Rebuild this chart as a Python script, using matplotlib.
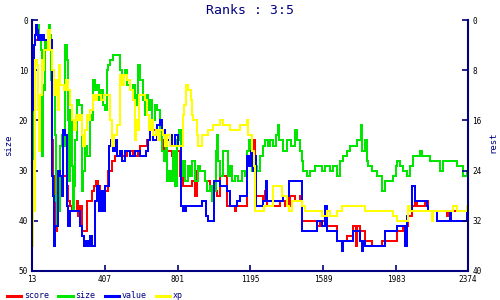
import matplotlib
matplotlib.use("Agg")
import matplotlib.pyplot as plt
from matplotlib.lines import Line2D

title = "Ranks : 3:5"
x_ticks = [13, 407, 801, 1195, 1589, 1983, 2374]
left_ticks = [0, 10, 20, 30, 40, 50]
right_ticks = [0, 8, 16, 24, 32, 40]

score_x = [13, 16, 18, 24, 29, 121, 127, 138, 143, 148, 154, 203, 208, 219, 230, 246, 257, 262, 273, 284,
           311, 327, 338, 349, 360, 371, 381, 425, 446, 462, 490, 527, 560, 587, 598, 636, 652, 717, 728,
           771, 798, 814, 831, 858, 879, 896, 906, 950, 977, 999, 1015, 1031, 1069, 1112, 1118, 1177, 1188,
           1199, 1210, 1215, 1221, 1248, 1264, 1275, 1286, 1302, 1313, 1356, 1383, 1394, 1405, 1410, 1437,
           1464, 1475, 1518, 1556, 1572, 1600, 1610, 1654, 1665, 1719, 1751, 1767, 1773, 1789, 1816, 1854,
           1881, 1908, 1935, 1989, 2022, 2049, 2071, 2087, 2098, 2141, 2158, 2260, 2266, 2369, 2374]
score_y = [18, 8, 6, 5, 4, 24, 31, 37, 42, 34, 31, 33, 36, 37, 38, 38, 36, 39, 37, 42,
           36, 36, 34, 33, 32, 33, 34, 30, 28, 27, 27, 26, 27, 26, 25, 24, 22, 24, 26,
           27, 26, 31, 33, 33, 32, 35, 30, 32, 34, 34, 35, 31, 37, 38, 37, 27, 29,
           26, 28, 24, 35, 35, 36, 34, 37, 37, 37, 36, 37, 35, 37, 35, 36,
           35, 40, 40, 41, 40, 38, 41, 41, 44, 43, 41, 45, 41, 42, 44, 45,
           45, 44, 44, 42, 41, 39, 37, 36, 37, 36, 38, 39, 38, 37, 37]

size_x = [13, 18, 29, 45, 51, 62, 67, 70, 78, 83, 94, 105, 110, 116, 127, 138, 143, 148, 154, 159, 165,
          175, 186, 192, 203, 208, 213, 219, 230, 235, 241, 246, 257, 268, 284, 289, 300, 311, 327, 333,
          343, 354, 365, 376, 387, 397, 408, 419, 425, 435, 452, 479, 490, 500, 517, 527, 544, 560, 571,
          582, 587, 598, 614, 625, 630, 641, 652, 663, 679, 690, 706, 717, 728, 739, 744, 755, 766, 777,
          787, 798, 809, 820, 831, 842, 858, 869, 879, 896, 912, 923, 950, 961, 977, 988, 999, 1010, 1015,
          1020, 1031, 1047, 1074, 1085, 1096, 1112, 1128, 1150, 1166, 1177, 1188, 1199, 1204, 1221, 1231,
          1248, 1264, 1275, 1291, 1302, 1318, 1334, 1345, 1350, 1372, 1394, 1416, 1437, 1448, 1464, 1475,
          1480, 1502, 1518, 1545, 1583, 1600, 1627, 1643, 1665, 1681, 1697, 1719, 1735, 1773, 1795, 1800,
          1816, 1827, 1833, 1854, 1881, 1908, 1924, 1951, 1968, 1984, 1989, 2006, 2022, 2044, 2060, 2076,
          2098, 2114, 2125, 2168, 2185, 2222, 2239, 2314, 2347, 2369, 2374]
size_y = [30, 5, 3, 1, 4, 6, 27, 13, 14, 4, 6, 1, 3, 12, 14, 23, 36, 41, 33, 38, 25,
          23, 25, 5, 8, 20, 32, 18, 29, 38, 33, 24, 16, 17, 34, 30, 25, 27, 19, 20,
          12, 14, 13, 16, 14, 17, 18, 10, 9, 8, 7, 7, 10, 11, 10, 13, 14, 13, 17,
          15, 9, 12, 16, 19, 15, 18, 16, 20, 17, 18, 22, 26, 28, 24, 32, 30, 32, 26,
          33, 24, 22, 31, 28, 32, 29, 31, 28, 32, 29, 30, 32, 34, 33, 36, 34, 26, 23,
          28, 31, 26, 31, 29, 32, 31, 32, 30, 31, 26, 24, 27, 30, 29, 30,
          27, 25, 24, 25, 24, 25, 23, 21, 24, 26, 24, 25, 22, 24, 26, 28,
          30, 31, 30, 29, 30, 29, 30, 29, 31, 28, 27, 26, 25, 24, 21, 26,
          24, 28, 29, 30, 31, 34, 32, 32, 31, 29, 28, 29, 30, 31, 29, 27,
          27, 26, 27, 28, 28, 30, 28, 29, 31, 30, 30]

value_x = [13, 18, 24, 29, 35, 40, 45, 51, 56, 62, 67, 73, 78, 100, 110, 121, 127, 132, 138, 148, 154,
           165, 175, 181, 192, 203, 208, 219, 262, 273, 284, 295, 306, 316, 327, 338, 354, 365, 376, 387,
           397, 408, 419, 430, 441, 452, 462, 473, 490, 500, 517, 544, 571, 598, 630, 641, 652, 668, 690,
           706, 717, 733, 760, 771, 787, 804, 820, 831, 836, 842, 847, 933, 955, 966, 999, 1031, 1069,
           1085, 1123, 1139, 1177, 1188, 1199, 1210, 1215, 1226, 1231, 1264, 1280, 1286, 1318, 1372, 1405,
           1475, 1556, 1583, 1600, 1610, 1665, 1692, 1697, 1751, 1789, 1800, 1805, 1816, 1924, 1989, 2033,
           2044, 2049, 2071, 2087, 2152, 2158, 2206, 2276, 2282, 2369, 2374]
value_y = [18, 9, 5, 3, 1, 2, 4, 3, 4, 3, 4, 3, 4, 3, 4, 31, 35, 45, 41, 41, 30,
           31, 35, 22, 23, 37, 41, 38, 38, 41, 43, 45, 44, 45, 43, 45, 36, 33, 38, 34,
           38, 33, 33, 25, 24, 26, 24, 27, 26, 28, 26, 27, 26, 27, 26, 24, 22, 24, 21,
           20, 22, 24, 23, 25, 23, 25, 37, 38, 37, 38, 37, 36, 39, 40, 32, 33, 34,
           37, 36, 35, 27, 29, 26, 30, 27, 37, 37, 36, 32, 36, 36, 35, 32,
           42, 40, 41, 37, 42, 44, 46, 44, 42, 44, 46, 44, 45, 42, 41, 45,
           39, 38, 33, 36, 37, 38, 40, 38, 40, 37, 37]

xp_x = [13, 18, 24, 29, 40, 45, 51, 56, 67, 73, 78, 100, 110, 121, 132, 143, 154, 159, 165, 186, 197,
        208, 219, 230, 241, 251, 262, 273, 284, 289, 300, 311, 316, 327, 343, 354, 365, 387, 403, 419,
        435, 446, 457, 473, 490, 500, 511, 527, 544, 560, 571, 576, 587, 592, 609, 625, 636, 647, 657,
        668, 684, 695, 706, 722, 733, 744, 760, 771, 831, 836, 847, 858, 874, 879, 885, 906, 912, 933,
        950, 966, 993, 1031, 1047, 1085, 1139, 1177, 1183, 1204, 1215, 1221, 1258, 1270, 1318, 1367,
        1394, 1405, 1421, 1475, 1491, 1583, 1610, 1627, 1665, 1692, 1816, 1968, 1989, 2049, 2060, 2179,
        2185, 2293, 2314, 2369, 2374]
xp_y = [45, 28, 38, 8, 9, 18, 26, 15, 8, 10, 6, 2, 6, 10, 15, 12, 18, 9, 13, 14, 12,
        14, 17, 20, 22, 19, 20, 19, 23, 25, 22, 19, 20, 18, 15, 16, 15, 16, 15, 15,
        20, 25, 23, 21, 11, 13, 11, 12, 14, 16, 24, 20, 22, 15, 15, 16, 19, 22, 20,
        23, 22, 24, 22, 23, 25, 23, 25, 25, 19, 17, 13, 14, 16, 19, 20, 23, 25, 23,
        23, 22, 21, 20, 21, 22, 21, 20, 23, 26, 29, 38, 38, 37, 33, 35,
        37, 38, 36, 37, 38, 39, 38, 39, 38, 37, 38, 39, 40, 37, 38, 40,
        38, 37, 38, 37, 37]

legend_labels = ["score", "size", "value", "xp"]
colors = ["#ff0000", "#00e600", "#0000ff", "#ffff00"]
navy = "#000080"
mono = "DejaVu Sans Mono"

fig = plt.figure(figsize=(5, 3), dpi=100)
ax = fig.add_axes([32 / 500, 1 - 271 / 300, 436 / 500, 251 / 300])
series = [(score_x, score_y), (size_x, size_y), (value_x, value_y), (xp_x, xp_y)]
for (xs, ys), c, lab in zip(series, colors, legend_labels):
    ax.plot(xs, ys, drawstyle="steps-post", color=c, lw=1.1, label=lab,
            solid_joinstyle="miter", antialiased=False)

ax.set_xlim(13, 2374)
ax.set_ylim(50, 0)
ax.set_xticks(x_ticks)
ax.set_xticklabels([str(t) for t in x_ticks])
ax.set_yticks(left_ticks)
ax.set_yticklabels([str(t) for t in left_ticks])
ax.tick_params(axis="both", direction="in", length=4, width=1.2, color=navy,
               labelsize=5.6, labelcolor="black", pad=3)
for lbl in ax.get_xticklabels() + ax.get_yticklabels():
    lbl.set_family(mono)
for side in ["left", "right", "bottom"]:
    ax.spines[side].set_color(navy)
    ax.spines[side].set_linewidth(1.5)
ax.spines["top"].set_visible(False)
ax.spines["right"].set_visible(False)

ax2 = ax.twinx()
ax2.set_ylim(40, 0)
ax2.set_yticks(right_ticks)
ax2.set_yticklabels([str(t) for t in right_ticks])
ax2.tick_params(axis="y", direction="in", length=4, width=1.2, color=navy,
                labelsize=5.6, labelcolor="black", pad=3)
for lbl in ax2.get_yticklabels():
    lbl.set_family(mono)
for side in ["left", "top", "bottom"]:
    ax2.spines[side].set_visible(False)
ax2.spines["right"].set_color(navy)
ax2.spines["right"].set_linewidth(1.5)

fig.text(0.5, 1 - 10 / 300, title, ha="center", va="center", color=navy,
         family=mono, fontsize=9.5)
fig.text(9 / 500, 1 - 145 / 300, "size", rotation=90, ha="center", va="center",
         color=navy, family=mono, fontsize=6.5)
fig.text(493 / 500, 1 - 142 / 300, "rest", rotation=90, ha="center", va="center",
         color=navy, family=mono, fontsize=6.5)

handles = [Line2D([], [], color=c, lw=2.2) for c in colors]
leg = fig.legend(handles, legend_labels, ncol=4, loc="center left",
                 bbox_to_anchor=(3 / 500, 4 / 300), frameon=False, borderpad=0,
                 handlelength=1.7, handletextpad=0.35, columnspacing=1.1,
                 prop={"family": mono, "size": 6})
for t in leg.get_texts():
    t.set_color(navy)

fig.savefig("out.png", dpi=100)
